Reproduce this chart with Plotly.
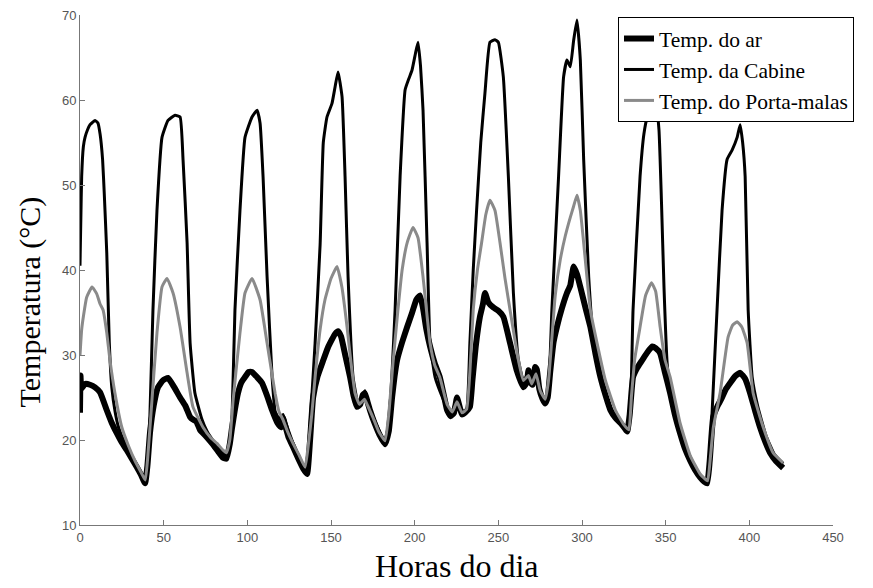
import plotly.graph_objects as go

# ---- Data ----
hours_air = [0, 0.3, 0.8, 3, 6, 9, 12, 16, 19, 22, 25, 28, 31, 34, 36.5, 38.9,
             40.3, 41.8, 44, 46.6, 49.5, 52.6, 56, 59.8, 63, 65.8, 67.5, 69.5, 71.7, 75, 78.9, 82, 85.5, 87.5,
             89.5, 90.9, 92.5, 94.4, 96.5, 98.6, 100.8, 102.8, 105.8, 108.8, 111.8, 114.8, 118, 120.2, 121.3, 122.5, 124.5, 127.3, 130.5, 133.5, 135.7,
             137.5, 139.3, 142, 145.4, 148, 150.5, 152.5, 154.2, 156, 158.5, 161.4, 163.5, 165.5, 167.5, 169, 170.3, 171.8, 173.3, 176, 179, 182.3,
             184.5, 186.5, 188, 189.5, 192.5, 195.5, 198.5, 201, 203.2, 205, 207, 209.2, 212, 215, 217.5, 219.4, 221.5, 223.5, 225.3, 227, 228.3, 230.5, 233,
             234.5, 236.5, 239, 240.8, 242, 244, 247, 250, 253, 257, 261, 265, 267, 268, 269.5, 270.5, 272, 273, 274.5, 276.5, 278,
             279.5, 281, 283, 285, 288, 291, 293, 295, 297, 299, 302, 305, 308, 311, 314, 317, 320, 323, 325.5, 327,
             328.5, 330.5, 333, 336, 339, 342, 344, 346.7, 349.5, 352.7, 355.5, 358.6, 361.5, 364.6, 367.5, 370.6, 373, 374.8,
             376.3, 378.4, 381, 383.7, 386, 388.5, 391.5, 394.5, 397.5, 400.5, 403.5, 406.4, 409.5, 412.4, 416, 420.2]
temp_air = [23.2, 27.6, 26, 26.6, 26.5, 26.2, 25.6, 23.5, 22, 20.8, 19.7, 18.8, 17.8, 16.8, 15.9, 14.9,
            17, 20.8, 24, 26.2, 27, 27.3, 26.3, 25, 24, 22.7, 22.4, 22.2, 21.2, 20.5, 19.6, 18.8, 17.9, 17.8,
            19.5, 21.5, 23.5, 25.5, 26.8, 27.4, 28, 28, 27.4, 26.7, 25.2, 23.5, 22, 21.5, 22.6, 21.8, 20.4, 19.2, 17.8, 16.6, 16,
            20, 25, 27.5, 29.4, 30.8, 31.8, 32.5, 32.8, 32.2, 30, 27.4, 25.2, 23.9, 24.2, 25.3, 25.5, 24.5, 23.5, 22, 20.6, 19.5,
            21, 25, 27.5, 29.4, 31.5, 33.3, 35, 36.5, 37, 35.5, 33, 31, 29, 27.4, 25.2, 23.5, 22.8, 23.2, 25, 23.8, 23, 23.3, 23.9,
            27, 31, 34.5, 36, 37.3, 36.2, 35.6, 35.2, 34.5, 31.4, 28.2, 26.2, 26.8, 28.2, 26.7, 26.5, 28.6, 28.3, 26, 24.8, 24.3,
            25, 28, 31.5, 33.3, 35.5, 37.3, 38.2, 40.4, 39.5, 38, 35.6, 33.3, 30.2, 27.4, 25.3, 23.5, 22.6, 22, 21.4, 21,
            23, 27.4, 28.5, 29.4, 30.3, 31, 30.8, 30.2, 28, 25.5, 23, 20.8, 19, 17.6, 16.5, 15.6, 15.1, 14.9,
            17.5, 22.7, 24, 25, 26, 26.7, 27.5, 27.9, 27.2, 25.5, 23.4, 21.5, 19.8, 18.5, 17.5, 16.7]

hours_cabin = [0, 0.5, 1, 2, 3, 4.5, 6, 9, 10.7, 12, 13.5, 14.5, 16, 17.5, 19, 21, 23, 26, 30, 34, 37, 39,
               40.5, 41.8, 43.6, 46, 49, 52.6, 56.8, 59.8, 61.6, 64, 65.8, 68.7, 72.9, 76, 80, 84, 87.5,
               89.5, 90.9, 92.6, 95.6, 98.6, 102.8, 105.8, 107.6, 109.4, 111.8, 114.8, 116.6, 119, 121.3, 123, 127, 131, 134.5,
               136.5, 138.5, 140.5, 143.5, 145.4, 147.6, 150.6, 152.4, 154.2, 156.6, 158.4, 160.2, 163.2, 166.2, 168.5, 170.3, 172, 175, 179, 182.3,
               184.5, 186.5, 188.3, 191.3, 194.3, 196.5, 198.4, 200.5, 202, 203.5, 205, 207.4, 209.2, 212.2, 216, 219.4, 222, 225.3, 228.3, 231,
               233, 235, 237, 239.5, 242, 245, 248, 250, 253, 256, 259, 262, 265, 268, 270, 272.5, 275, 278,
               280, 282, 286, 289, 291, 293, 295, 297, 299, 301, 304, 307, 310, 314, 318, 322, 327,
               329, 330.5, 334.7, 337, 339, 342, 344.5, 346, 347.5, 349, 350.9, 353, 356, 360, 365, 370, 374.8,
               376.3, 377.8, 380.7, 383.7, 386.7, 389.7, 392.7, 394.5, 396, 397.5, 399.3, 401.7, 405, 410, 415, 420.2]
temp_cabin = [40.5, 46, 51, 54.5, 55.6, 56.5, 57.1, 57.6, 57.3, 56, 53, 49, 42, 31.5, 26.2, 23.3, 21.5, 20, 18.5, 17, 15.8, 15.2,
              17.5, 23, 35.3, 47, 55.6, 57.6, 58.2, 58, 52.9, 43.2, 31.4, 25.5, 22.4, 21, 19.8, 18.8, 18.2,
              19.5, 23, 35.3, 47, 55.6, 58, 58.8, 57.3, 51, 39.2, 27.4, 23.4, 22.5, 23, 22, 19.8, 18, 16.3,
              19, 25, 31.4, 43, 55, 58, 59.6, 61.5, 63.3, 60.4, 51, 39.2, 27.4, 24.3, 25, 25.8, 24.3, 22.8, 21, 19.8,
              22, 28, 35.3, 51, 61.2, 62.5, 63.5, 65.5, 66.8, 64, 58.8, 43.2, 31.4, 27.4, 25.3, 23.8, 23.2, 24.8, 23.3, 23.6,
              31.4, 40, 47, 55, 60.8, 66.8, 67.1, 66.8, 62.7, 51, 37.3, 29.4, 27, 27.8, 26.8, 28, 25.5, 24.6,
              26, 35.3, 51, 62.7, 64.7, 63.9, 67, 69.4, 64.7, 53, 39.2, 31.4, 28, 25.5, 23.5, 22.3, 21.3,
              24, 35.3, 51, 56, 58, 59.3, 59, 56.5, 48, 38, 29, 25.5, 23, 20.5, 17.8, 15.9, 15,
              17.5, 23.5, 35.3, 47, 53, 54.1, 55.6, 57.1, 55, 51, 35.3, 27.4, 24, 20.5, 18.3, 17.2]

hours_trunk = [0, 1, 2, 4, 7.2, 10, 12, 13.8, 16, 17.9, 20.9, 25, 29, 33, 36.5, 39,
               40.5, 43, 46, 49, 52, 55.6, 59.8, 64, 67.5, 73.5, 78, 81.9, 85.5, 87.5,
               89.5, 91.5, 95.6, 98.6, 102.8, 107.6, 111.8, 116.6, 119, 121.3, 124, 127.3, 131, 134.5,
               136.5, 138.5, 140.5, 143.5, 146.4, 150, 153.6, 156.5, 159.6, 162, 164.4, 167, 170, 172, 175, 178.5, 182.3,
               184.5, 187, 190, 192.5, 195.5, 199, 202, 205, 209.2, 212, 215, 219.4, 222.5, 225.3, 228.3, 231,
               233, 235, 237.5, 240, 242.5, 245, 248, 251, 254, 257, 262, 265, 268, 270, 272.5, 275, 278,
               280, 282, 284, 287, 290, 293, 295, 297, 299, 301, 305, 309, 314, 320, 325, 328,
               329.5, 331.5, 334.7, 338, 341.5, 344, 346.7, 349.5, 352.7, 358.6, 364.6, 370.6, 375,
               376.5, 378.5, 382.5, 387.3, 390, 392.7, 395.5, 398.7, 402.3, 408.3, 414.2, 420.2]
temp_trunk = [30, 33, 34.5, 36.8, 38, 37.2, 36, 35.3, 32.6, 29.4, 25.5, 21.5, 19.3, 17.5, 16.2, 15.3,
              18, 24.7, 32.6, 38, 39, 37.3, 33.3, 27.9, 23.9, 21.5, 20.3, 19.6, 18.8, 18.5,
              20, 24.7, 32.6, 37.3, 39, 36.5, 31.4, 25.5, 23.3, 22.4, 21, 19.6, 18.2, 16.8,
              19.5, 23, 27.4, 33, 36.5, 39, 40.4, 38, 33.3, 29, 25.5, 24.2, 24.8, 24, 22.7, 21, 19.9,
              23, 29, 35.3, 40, 43.2, 45, 43.8, 39.2, 31.4, 28.8, 27.4, 24.2, 23.3, 24.5, 23.2, 23.6,
              28, 35.3, 40, 43.2, 46.5, 48.2, 47, 43.2, 39, 35.3, 29.4, 27, 27.6, 26.6, 27.8, 25.8, 24.8,
              27, 32, 37, 41.2, 44, 46.2, 47.5, 48.8, 47, 43.2, 35.3, 31.4, 27, 23.5, 21.8, 21.2,
              25, 29.5, 33.3, 37, 38.5, 37.5, 33.3, 29.5, 27.4, 22, 18.2, 16, 15.2,
              17.5, 21.5, 25.5, 32.1, 33.5, 33.9, 33.3, 31.4, 25.5, 21.5, 18.5, 17.3]

x_ticks = [0, 50, 100, 150, 200, 250, 300, 350, 400, 450]
y_ticks = [10, 20, 30, 40, 50, 60, 70]

series_names = ["Temp. do ar", "Temp. da Cabine", "Temp. do Porta-malas"]

serif = "Liberation Serif, Times New Roman, serif"
sans = "Liberation Sans, Arial, sans-serif"

fig = go.Figure()
fig.add_trace(go.Scatter(x=hours_air, y=temp_air, mode="lines", name=series_names[0],
                         line=dict(color="black", width=6, shape="spline", smoothing=0.4)))
fig.add_trace(go.Scatter(x=hours_cabin, y=temp_cabin, mode="lines", name=series_names[1],
                         line=dict(color="black", width=3, shape="spline", smoothing=0.4)))
fig.add_trace(go.Scatter(x=hours_trunk, y=temp_trunk, mode="lines", name=series_names[2],
                         line=dict(color="#8a8a8a", width=3, shape="spline", smoothing=0.4)))

# The page body has an 8px default margin, so the figure is drawn 8px smaller
fig.update_layout(
    template="none",
    width=865, height=580,
    margin=dict(l=72, r=40, t=7, b=63, autoexpand=False),
    plot_bgcolor="white", paper_bgcolor="white",
    showlegend=True,
    legend=dict(x=0.7145, y=0.996, xanchor="left", yanchor="top",
                bordercolor="black", borderwidth=1, bgcolor="white",
                font=dict(family=serif, size=21.5, color="black"),
                itemwidth=30, tracegroupgap=0),
    annotations=[
        dict(text="Horas do dia", xref="paper", yref="paper", x=0.5, y=-0.119,
             xanchor="center", yanchor="bottom", showarrow=False,
             font=dict(family=serif, size=32, color="black")),
        dict(text="Temperatura (°C)", xref="paper", yref="paper", x=-0.066, y=0.437,
             xanchor="center", yanchor="middle", textangle=-90, showarrow=False,
             font=dict(family=serif, size=30, color="black")),
    ],
)
fig.update_xaxes(range=[0, 450], tickvals=x_ticks, ticks="inside", ticklen=5,
                 tickcolor="#777", showline=True, linecolor="#777", linewidth=1,
                 showgrid=False, zeroline=False, mirror=False, automargin=False,
                 ticklabeloverflow="allow",
                 tickfont=dict(family=sans, size=13, color="#555"))
fig.update_yaxes(range=[10, 70], tickvals=y_ticks, ticks="inside", ticklen=5,
                 tickcolor="#777", showline=True, linecolor="#777", linewidth=1,
                 showgrid=False, zeroline=False, mirror=False, automargin=False,
                 ticklabeloverflow="allow",
                 tickfont=dict(family=sans, size=13, color="#555"))

fig.write_html("out.html")
